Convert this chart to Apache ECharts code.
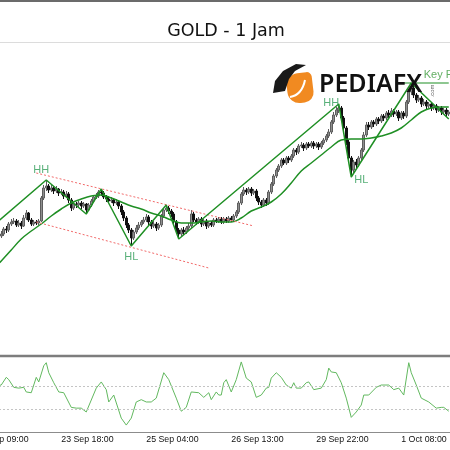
<!DOCTYPE html>
<html>
<head>
<meta charset="utf-8">
<title>GOLD - 1 Jam</title>
<script src="https://cdn.jsdelivr.net/npm/echarts@6/dist/echarts.min.js"></script>
<style>
    html, body { margin: 0; padding: 0; background: #fff; }
    #chart { width: 450px; height: 450px; }
</style>
</head>
<body>
<div id="chart"></div>
<script>
// one category per hourly bar; the first bars sit left of the visible area
const barCount = 190;
const categories = Array.from({ length: barCount }, (_, i) => String(i));

// x-axis tick labels, keyed by bar index
const tickBars = [0, 34, 68, 102, 136, 170];
const tickTexts = ['22 Sep 09:00', '23 Sep 18:00', '25 Sep 04:00', '26 Sep 13:00', '29 Sep 22:00', '1 Oct 08:00'];

// candles [open, close, low, high], starting at bar 8
const firstBar = 8;
const ohlc = [
    [3731,3728,3726,3733],[3728,3724,3721,3730],[3724,3726,3722,3729],[3726,3731,3724,3733],[3731,3730,3727,3734],
    [3730,3736,3728,3738],[3736,3738,3734,3741],[3738,3739,3736,3742],[3739,3735,3733,3741],[3735,3737,3733,3740],
    [3737,3734,3731,3739],[3734,3742,3733,3745],[3742,3747,3740,3750],[3747,3740,3738,3748],[3740,3736,3734,3742],
    [3736,3738,3734,3740],[3738,3737,3735,3740],[3737,3739,3735,3741],[3739,3762,3738,3764],[3762,3772,3760,3775],
    [3772,3774,3769,3780],[3774,3770,3767,3776],[3770,3772,3768,3775],[3772,3769,3766,3774],[3769,3771,3767,3774],
    [3771,3767,3764,3772],[3767,3768,3765,3771],[3768,3764,3761,3770],[3764,3766,3762,3769],[3766,3760,3757,3768],
    [3760,3752,3749,3762],[3752,3756,3750,3758],[3756,3755,3752,3758],[3755,3757,3753,3759],[3757,3754,3751,3759],
    [3754,3756,3752,3758],[3756,3750,3746,3757],[3750,3755,3749,3757],[3755,3759,3753,3761],[3759,3763,3757,3765],
    [3763,3764,3761,3767],[3764,3768,3762,3770],[3768,3767,3764,3771],[3767,3763,3761,3769],[3763,3761,3758,3765],
    [3761,3759,3757,3764],[3759,3760,3757,3763],[3760,3757,3754,3762],[3757,3758,3755,3761],[3758,3754,3751,3760],
    [3754,3748,3745,3756],[3748,3742,3739,3750],[3742,3735,3732,3744],[3735,3730,3727,3737],[3730,3722,3714,3732],
    [3722,3728,3720,3730],[3728,3732,3726,3735],[3732,3735,3730,3738],[3735,3738,3733,3740],[3738,3740,3736,3743],
    [3740,3743,3738,3746],[3743,3738,3735,3745],[3738,3734,3731,3740],[3734,3736,3732,3739],[3736,3732,3729,3738],
    [3732,3735,3730,3737],[3735,3744,3733,3746],[3744,3750,3742,3752],[3750,3752,3748,3755],[3752,3749,3746,3754],
    [3749,3746,3743,3751],[3746,3738,3735,3748],[3738,3730,3727,3740],[3730,3726,3721,3732],[3726,3730,3724,3732],
    [3730,3728,3725,3733],[3728,3732,3726,3734],[3732,3734,3730,3737],[3734,3746,3732,3750],[3746,3740,3738,3748],
    [3740,3738,3735,3742],[3738,3741,3736,3743],[3741,3736,3733,3743],[3736,3739,3734,3741],[3739,3734,3731,3741],
    [3734,3737,3732,3739],[3737,3735,3733,3739],[3735,3740,3733,3742],[3740,3739,3737,3742],[3739,3741,3737,3743],
    [3741,3738,3736,3743],[3738,3741,3736,3743],[3741,3739,3737,3743],[3739,3742,3737,3744],[3742,3740,3738,3744],
    [3740,3744,3738,3746],[3744,3748,3742,3750],[3748,3757,3746,3759],[3757,3766,3755,3768],[3766,3770,3764,3773],
    [3770,3768,3765,3772],[3768,3771,3766,3773],[3771,3767,3764,3773],[3767,3769,3765,3771],[3769,3762,3759,3771],
    [3762,3758,3755,3764],[3758,3755,3752,3760],[3755,3760,3753,3762],[3760,3757,3754,3762],[3757,3768,3755,3770],
    [3768,3776,3766,3778],[3776,3784,3774,3786],[3784,3790,3782,3792],[3790,3794,3788,3796],[3794,3800,3792,3802],
    [3800,3797,3795,3802],[3797,3802,3795,3804],[3802,3800,3797,3804],[3800,3804,3798,3806],[3804,3810,3802,3812],
    [3810,3808,3805,3812],[3808,3814,3806,3816],[3814,3815,3812,3818],[3815,3812,3809,3817],[3812,3816,3810,3818],
    [3816,3814,3812,3818],[3814,3817,3812,3819],[3817,3814,3811,3819],[3814,3816,3812,3818],[3816,3813,3810,3818],
    [3813,3817,3811,3819],[3817,3820,3815,3822],[3820,3824,3818,3826],[3824,3828,3822,3831],[3828,3838,3826,3840],
    [3838,3845,3836,3848],[3845,3850,3843,3853],[3850,3852,3847,3856],[3852,3842,3839,3854],[3842,3832,3829,3844],
    [3832,3818,3815,3834],[3818,3802,3799,3820],[3802,3790,3783,3804],[3790,3798,3787,3800],[3798,3795,3792,3801],
    [3795,3802,3793,3804],[3802,3810,3800,3812],[3810,3825,3808,3828],[3825,3835,3823,3838],[3835,3833,3830,3838],
    [3833,3838,3831,3840],[3838,3836,3833,3840],[3836,3841,3834,3843],[3841,3839,3836,3843],[3839,3844,3837,3846],
    [3844,3842,3839,3846],[3842,3847,3840,3849],[3847,3845,3842,3850],[3845,3849,3843,3852],[3849,3846,3843,3851],
    [3846,3848,3844,3850],[3848,3842,3839,3850],[3842,3847,3840,3849],[3847,3844,3841,3849],[3844,3858,3842,3860],
    [3858,3868,3856,3871],[3868,3872,3865,3877],[3872,3865,3862,3874],[3865,3860,3857,3867],[3860,3862,3858,3865],
    [3862,3856,3853,3864],[3856,3858,3854,3861],[3858,3854,3851,3860],[3854,3856,3852,3858],[3856,3852,3849,3858],
    [3852,3854,3850,3856],[3854,3850,3847,3856],[3850,3852,3848,3854],[3852,3848,3845,3854],[3848,3850,3846,3852],
    [3850,3846,3843,3852],[3846,3848,3844,3850]
];

// moving average [bar, price]
const maPoints = [
    [8,3694],[10,3699],[14,3710],[18,3721],[22,3729],[26,3736],[30,3744],[34,3751],[38,3757],[42,3761],
    [46,3764],[50,3765],[54,3762],[58,3758],[62,3754],[66,3751],[70,3747],[74,3744],[78,3740],[82,3737],
    [86,3737],[90,3738],[94,3739],[98,3738],[102,3738],[106,3742],[110,3749],[114,3753],[118,3758],[122,3766],
    [126,3777],[130,3789],[134,3797],[138,3805],[142,3813],[146,3820],[150,3821],[154,3821],[158,3822],[162,3824],
    [166,3827],[170,3832],[174,3840],[178,3848],[182,3852],[186,3853],[189,3853]
];

// zigzag swing points [bar, price]
const zigzag = [[8,3737],[28,3780],[44,3746],[50,3771],[62,3714],[76,3755],[81,3721],[145,3856],[150,3783],[174,3877],[189,3841]];

// descending channel (red dashed)
const channelTop = [[24,3787],[111,3734]];
const channelBottom = [[24,3738],[93,3692]];

// key resistance level
const keyLevel = [[171,3877],[189,3877]];

// swing labels [bar, price, text]
const swingLabels = [[26,3790,'HH'],[62,3703,'HL'],[142,3857,'HH'],[154,3780,'HL']];
const keyLabel = [[179,3885,'Key R']];

// oscillator [bar, value] and its levels
const oscPoints = [
    [8,60],[10,61],[12,71],[13,68],[15,58],[17,57],[19,58],[20,52],[22,51],[24,71],[25,65],[27,86],[28,90],
    [29,77],[31,64],[33,52],[35,51],[38,32],[40,31],[42,31],[44,26],[48,57],[50,65],[52,55],[53,39],[55,48],
    [58,18],[60,9],[62,18],[64,39],[66,42],[68,39],[70,39],[72,44],[75,77],[77,68],[80,44],[82,27],[84,32],
    [86,52],[89,51],[91,45],[93,51],[94,42],[96,52],[97,48],[98,48],[99,64],[100,68],[102,52],[104,68],[106,91],
    [108,70],[110,65],[112,45],[114,48],[116,57],[117,58],[118,70],[120,77],[122,71],[124,61],[126,57],[127,64],
    [128,57],[130,57],[132,64],[133,65],[135,55],[138,57],[140,68],[141,83],[142,78],[144,77],[146,64],[148,44],
    [150,19],[152,26],[154,35],[155,48],[157,48],[160,58],[162,61],[165,61],[167,55],[169,57],[171,48],[173,90],
    [174,77],[176,61],[178,44],[181,39],[184,31],[186,32],[187,32],[189,27]
];
const oscLevels = [60, 30];

const GREEN = '#1f8f24';

const chart = echarts.init(document.getElementById('chart'));

const tickInterval = index => tickBars.indexOf(index) >= 0;

const option = {
    animation: false,
    backgroundColor: '#fff',
    grid: [
        { left: -25, right: 0, top: 43, height: 312, outerBoundsMode: 'none', containLabel: false },
        { left: -25, right: 0, top: 355, height: 77, outerBoundsMode: 'none', containLabel: false }
    ],
    xAxis: [
        {
            type: 'category',
            gridIndex: 0,
            data: categories,
            show: false
        },
        {
            type: 'category',
            gridIndex: 1,
            data: categories,
            axisLine: { lineStyle: { color: '#8c8c8c', width: 1 } },
            axisTick: {
                interval: tickInterval,
                alignWithLabel: true,
                inside: true,
                length: 4,
                lineStyle: { color: '#555' }
            },
            axisLabel: {
                interval: tickInterval,
                formatter: value => tickTexts[tickBars.indexOf(Number(value))] || '',
                align: 'left',
                margin: 3,
                fontSize: 8.8,
                fontFamily: 'Liberation Sans',
                color: '#111'
            }
        }
    ],
    yAxis: [
        { type: 'value', gridIndex: 0, min: 3605, max: 3917, show: false },
        { type: 'value', gridIndex: 1, min: 0, max: 100, show: false }
    ],
    series: [
        {
            type: 'candlestick',
            xAxisIndex: 0,
            yAxisIndex: 0,
            barWidth: 2.2,
            encode: { x: 0, y: [1, 2, 3, 4] },
            data: ohlc.map((row, k) => [firstBar + k].concat(row)),
            itemStyle: {
                color: '#8e8e8e',
                borderColor: '#5e5e5e',
                color0: '#111',
                borderColor0: '#111',
                borderWidth: 1
            },
            z: 2
        },
        {
            type: 'line',
            smooth: 0.4,
            symbol: 'none',
            data: maPoints,
            lineStyle: { color: GREEN, width: 1.5 },
            z: 3
        },
        {
            type: 'line',
            symbol: 'none',
            data: zigzag,
            lineStyle: { color: GREEN, width: 1.5 },
            z: 4
        },
        {
            type: 'line',
            symbol: 'none',
            data: keyLevel,
            lineStyle: { color: GREEN, width: 1.2 },
            z: 4
        },
        {
            type: 'line',
            symbol: 'none',
            data: channelTop,
            lineStyle: { color: '#f26a6a', width: 1, type: [2, 2] },
            z: 3
        },
        {
            type: 'line',
            symbol: 'none',
            data: channelBottom,
            lineStyle: { color: '#f26a6a', width: 1, type: [2, 2] },
            z: 3
        },
        {
            type: 'scatter',
            symbolSize: 0,
            data: swingLabels,
            label: {
                show: true,
                position: 'inside',
                formatter: p => p.data[2],
                color: '#2f9c57',
                fontSize: 11,
                fontFamily: 'Liberation Sans'
            },
            z: 5
        },
        {
            type: 'scatter',
            symbolSize: 0,
            data: keyLabel,
            label: {
                show: true,
                position: 'right',
                distance: 0,
                formatter: p => p.data[2],
                color: '#3a9a3a',
                fontSize: 11,
                fontFamily: 'Liberation Sans'
            },
            z: 5
        },
        {
            type: 'line',
            xAxisIndex: 1,
            yAxisIndex: 1,
            symbol: 'none',
            data: oscPoints,
            lineStyle: { color: '#62b85f', width: 1 },
            markLine: {
                silent: true,
                symbol: 'none',
                label: { show: false },
                lineStyle: { color: '#c4c4c4', width: 1, type: [2, 2] },
                data: oscLevels.map(v => ({ yAxis: v }))
            }
        }
    ],
    graphic: [
        { type: 'line', shape: { x1: 0, y1: 1, x2: 450, y2: 1 }, style: { stroke: '#6b6b6b', lineWidth: 2 } },
        { type: 'line', shape: { x1: 0, y1: 42.5, x2: 450, y2: 42.5 }, style: { stroke: '#dcdcdc', lineWidth: 1 } },
        { type: 'line', shape: { x1: 0, y1: 356, x2: 450, y2: 356 }, style: { stroke: '#7d7d7d', lineWidth: 2.5 } },
        {
            type: 'text',
            x: 226,
            y: 31,
            style: {
                text: 'GOLD - 1 Jam',
                fontSize: 17.5,
                fontFamily: 'DejaVu Sans',
                fill: '#111',
                textAlign: 'center',
                textVerticalAlign: 'middle'
            }
        },
        // logo
        {
            type: 'rect',
            x: 300,
            y: 88,
            rotation: 0.12,
            shape: { x: -13, y: -15, width: 26, height: 30, r: [12, 5, 10, 12] },
            style: { fill: '#f18a21' },
            z: 10
        },
        {
            type: 'bezierCurve',
            shape: { x1: 290, y1: 97, cpx1: 302, cpy1: 95, x2: 305, y2: 80 },
            style: { stroke: '#fff', lineWidth: 2, fill: null },
            z: 11
        },
        {
            type: 'polygon',
            shape: { points: [[273, 93], [275, 81], [283, 71], [296, 64], [306, 65], [295, 71], [289, 79], [285, 91]] },
            style: { fill: '#1a1a1a' },
            z: 11
        },
        {
            type: 'text',
            x: 319,
            y: 85,
            style: {
                text: 'PEDIAFX',
                fontSize: 25,
                fontWeight: 600,
                fontFamily: 'Noto Sans',
                fill: '#111',
                textVerticalAlign: 'middle'
            },
            z: 11
        },
        {
            type: 'text',
            x: 432,
            y: 91,
            rotation: Math.PI / 2,
            style: {
                text: '.com',
                fontSize: 6,
                fontFamily: 'Liberation Sans',
                fill: '#666',
                textAlign: 'center',
                textVerticalAlign: 'middle'
            },
            z: 11
        }
    ]
};

chart.setOption(option);
</script>
</body>
</html>
